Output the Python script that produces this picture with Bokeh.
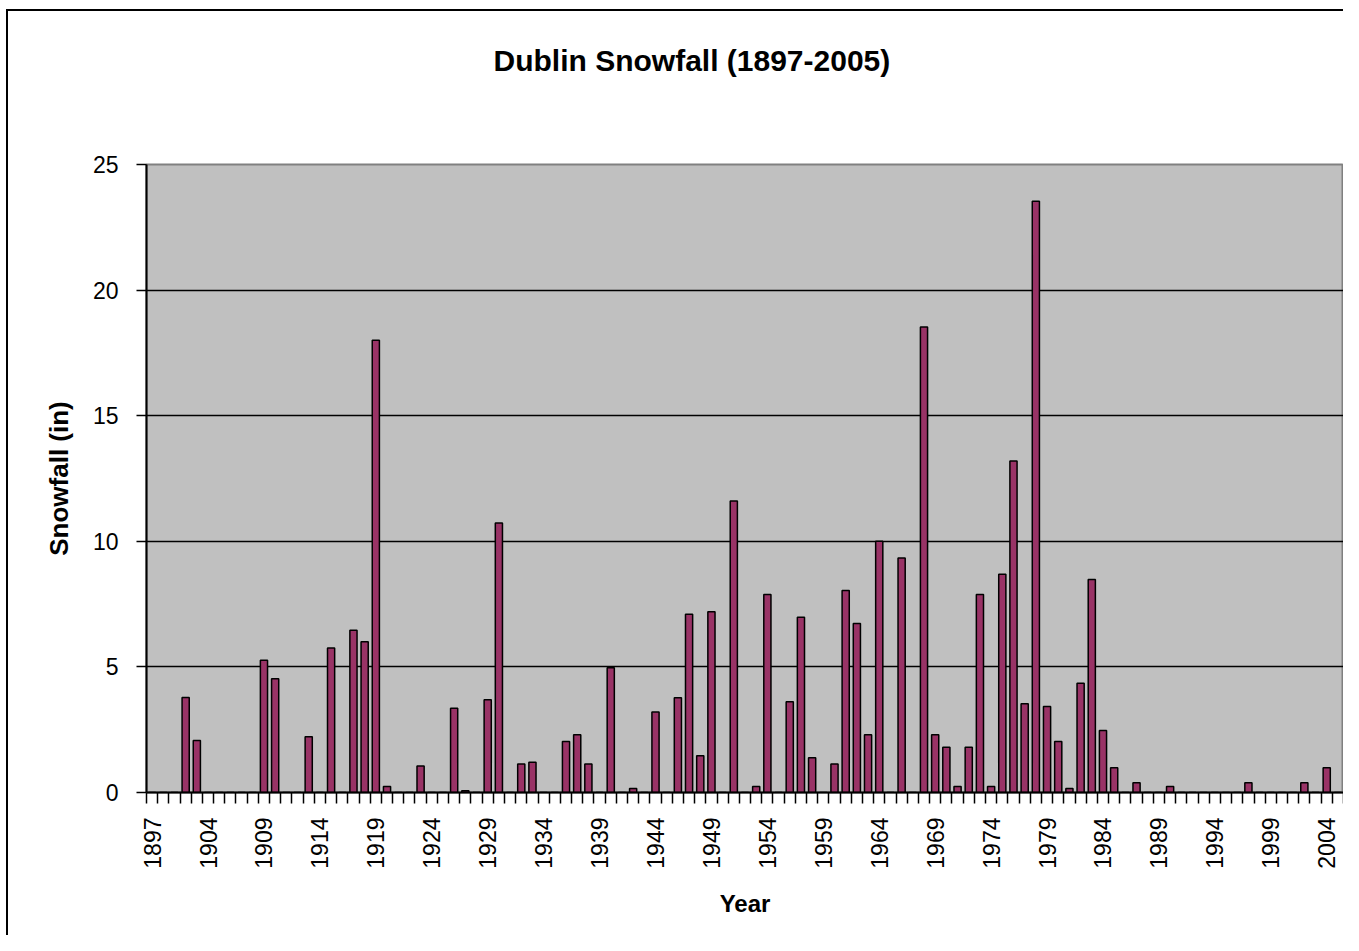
import math
from bokeh.plotting import figure
from bokeh.models import ColumnDataSource, FixedTicker, Range1d, Title
from bokeh.embed import file_html
from bokeh.resources import INLINE

# ---- data ----
years = [1897, 1900, 1901, 1902, 1903,
         1904, 1905, 1906, 1907, 1908, 1909, 1910, 1911, 1912, 1913,
         1914, 1915, 1916, 1917, 1918, 1919, 1920, 1921, 1922, 1923,
         1924, 1925, 1926, 1927, 1928, 1929, 1930, 1931, 1932, 1933,
         1934, 1935, 1936, 1937, 1938, 1939, 1940, 1941, 1942, 1943,
         1944, 1945, 1946, 1947, 1948, 1949, 1950, 1951, 1952, 1953,
         1954, 1955, 1956, 1957, 1958, 1959, 1960, 1961, 1962, 1963,
         1964, 1965, 1966, 1967, 1968, 1969, 1970, 1971, 1972, 1973,
         1974, 1975, 1976, 1977, 1978, 1979, 1980, 1981, 1982, 1983,
         1984, 1985, 1986, 1987, 1988, 1989, 1990, 1991, 1992, 1993,
         1994, 1995, 1996, 1997, 1998, 1999, 2000, 2001, 2002, 2003,
         2004, 2005]

snowfall = [0, 0, 0, 3.78, 2.07,
            0, 0, 0, 0, 0, 5.26, 4.53, 0, 0, 2.22,
            0, 5.75, 0, 6.46, 6.0, 18.0, 0.24, 0, 0, 1.05,
            0, 0, 3.35, 0.07, 0, 3.69, 10.73, 0, 1.13, 1.2,
            0, 0, 2.03, 2.3, 1.13, 0, 4.97, 0, 0.16, 0,
            3.2, 0, 3.77, 7.1, 1.46, 7.2, 0, 11.6, 0, 0.24,
            7.88, 0, 3.61, 6.98, 1.38, 0, 1.13, 8.04, 6.73, 2.3,
            10.0, 0, 9.34, 0, 18.53, 2.3, 1.8, 0.24, 1.8, 7.88,
            0.24, 8.69, 13.2, 3.53, 23.54, 3.42, 2.03, 0.16, 4.35, 8.48,
            2.47, 0.99, 0, 0.39, 0, 0, 0.24, 0, 0, 0,
            0, 0, 0, 0.39, 0, 0, 0, 0, 0.39, 0,
            0.99, 0]

y_ticks = [0, 5, 10, 15, 20, 25]
label_step = 5

title_text = "Dublin Snowfall (1897-2005)"
x_title = "Year"
y_title = "Snowfall (in)"

FONT = "Liberation Sans"

n = len(years)
idx = list(range(n))
src = ColumnDataSource(dict(x=idx, top=snowfall, year=[str(y) for y in years]))

p = figure(width=1343, height=935,
           x_range=Range1d(-0.5, n - 0.5), y_range=Range1d(0, 25),
           output_backend="svg", toolbar_location=None,
           min_border_left=146, min_border_right=0,
           min_border_top=164, min_border_bottom=143,
           background_fill_color="#C0C0C0",
           border_fill_color="white", border_fill_alpha=0)

# outer chart-area frame (top and left edges) drawn behind the transparent canvas border
p.styles = {
    "background-color": "white",
    "background-image": "linear-gradient(#000, #000), linear-gradient(#000, #000)",
    "background-repeat": "no-repeat",
    "background-size": "2px 100%, 100% 2px",
    "background-position": "6px 9px, 6px 9px",
}

p.vbar(x="x", top="top", width=0.64, source=src,
       fill_color="#993366", line_color="black", line_width=1.5)

# title: a blank spacer panel next to the plot area, then the title above it
p.title = None
spacer = Title(text=" ", text_font_size="1px", standoff=85)
p.add_layout(spacer, "above")
main_title = Title(text=title_text, align="left", offset=347,
                   text_font=FONT, text_font_size="30px", text_font_style="bold",
                   text_color="black", standoff=0)
p.add_layout(main_title, "above")

# x axis
xa = p.xaxis[0]
xa.ticker = FixedTicker(ticks=idx[::label_step],
                        minor_ticks=[i - 0.5 for i in range(n + 1)])
xa.major_label_overrides = {i: str(years[i]) for i in idx[::label_step]}
xa.major_label_orientation = math.pi / 2
xa.major_tick_out = 0
xa.major_tick_in = 0
xa.minor_tick_out = 11
xa.minor_tick_in = 0
xa.minor_tick_line_color = "black"
xa.minor_tick_line_width = 1.5
xa.axis_line_color = "black"
xa.axis_line_width = 2
xa.major_label_text_font = FONT
xa.major_label_text_font_size = "23px"
xa.major_label_text_color = "black"
xa.major_label_standoff = 14
xa.axis_label = x_title
xa.axis_label_text_font = FONT
xa.axis_label_text_font_size = "24px"
xa.axis_label_text_font_style = "bold"
xa.axis_label_text_color = "black"
xa.axis_label_standoff = 18

# y axis
ya = p.yaxis[0]
ya.ticker = FixedTicker(ticks=y_ticks)
ya.major_tick_out = 10
ya.major_tick_in = 0
ya.minor_tick_out = 0
ya.minor_tick_in = 0
ya.major_tick_line_color = "black"
ya.major_tick_line_width = 1.5
ya.axis_line_color = "black"
ya.axis_line_width = 2
ya.major_label_text_font = FONT
ya.major_label_text_font_size = "23px"
ya.major_label_text_color = "black"
ya.major_label_standoff = 18
ya.axis_label = y_title
ya.axis_label_text_font = FONT
ya.axis_label_text_font_size = "26px"
ya.axis_label_text_font_style = "bold"
ya.axis_label_text_color = "black"
ya.axis_label_standoff = 16

p.xgrid.visible = False
p.ygrid.ticker = FixedTicker(ticks=y_ticks)
p.ygrid.grid_line_color = "black"
p.ygrid.grid_line_width = 1.5

p.outline_line_color = "#808080"
p.outline_line_width = 2

open("out.html", "w").write(file_html(p, INLINE))
